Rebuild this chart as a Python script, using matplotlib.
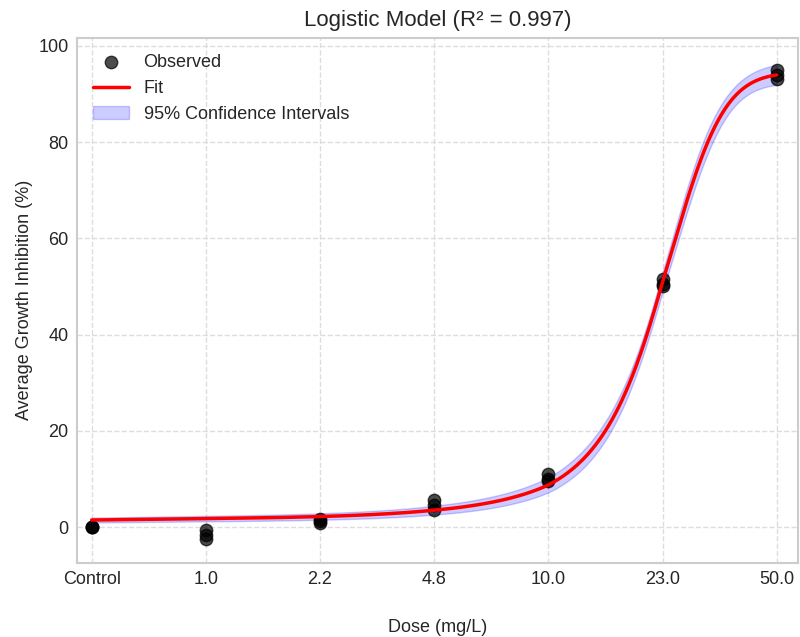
import numpy as np
import matplotlib
matplotlib.use("Agg")
import matplotlib.pyplot as plt

dose_labels = ["Control", "1.0", "2.2", "4.8", "10.0", "23.0", "50.0"]
dose_values = [0.0, 1.0, 2.2, 4.8, 10.0, 23.0, 50.0]
rep1 = [0.0, -0.6, 1.7, 5.6, 11.0, 51.5, 95.0]
rep2 = [0.0, -1.6, 0.9, 4.5, 10.0, 50.5, 94.0]
rep3 = [0.0, -2.5, 1.3, 3.6, 9.5, 50.0, 93.0]
r_squared = 0.997

plt.style.use("seaborn-v0_8-whitegrid")
plt.rcParams["font.family"] = ["Liberation Sans", "DejaVu Sans"]

doses = np.array(dose_values)
pos = np.arange(len(dose_labels), dtype=float)
xs = np.concatenate([pos, pos, pos])
ds = np.concatenate([doses, doses, doses])
ys = np.concatenate([rep1, rep2, rep3])


def logistic(x, p):
    L, x0, k = p
    return L / (1.0 + np.exp(-k * (x - x0)))


def jac(x, p):
    L, x0, k = p
    s = 1.0 / (1.0 + np.exp(-k * (x - x0)))
    dsg = s * (1 - s)
    return np.column_stack([s, L * dsg * (-k), L * dsg * (x - x0)])


p = np.array([95.0, 23.0, 0.17])
for _ in range(300):
    r = ys - logistic(ds, p)
    J = jac(ds, p)
    step, *_ = np.linalg.lstsq(J, r, rcond=None)
    p = p + 0.5 * step

res = ys - logistic(ds, p)
dof = len(ys) - 3
s2 = np.sum(res ** 2) / dof
J = jac(ds, p)
cov = s2 * np.linalg.inv(J.T @ J)

# smooth positions on the categorical axis; dose interpolated geometrically between doses
xf = np.linspace(0, 6, 600)
logd = np.log(doses[1:])
df = np.where(xf >= 1, np.exp(np.interp(xf, pos[1:], logd)), xf * doses[1])
yf = logistic(df, p)
Jf = jac(df, p)
se = np.sqrt(np.einsum("ij,jk,ik->i", Jf, cov, Jf))
lo = yf - 1.96 * se
hi = yf + 1.96 * se

fig = plt.figure(figsize=(8.0, 6.37), dpi=100)
ax = fig.add_axes([0.096, 0.116, 0.902, 0.825])

ax.scatter(xs, ys, s=80, color="black", alpha=0.7, label="Observed", zorder=3)
ax.plot(xf, yf, color="red", lw=2.5, label="Fit", zorder=4)
ax.fill_between(xf, lo, hi, color="blue", alpha=0.2, label="95% Confidence Intervals", zorder=2)

ax.set_xticks(pos)
ax.set_xticklabels(dose_labels)
ax.set_xlim(-0.13, 6.19)
ax.set_ylim(-7.5, 101.7)
ax.tick_params(labelsize=13, colors="#262626", pad=6)
ax.grid(True, linestyle="--", color="#dddddd", lw=1.0)
for sp in ax.spines.values():
    sp.set_visible(True)
    sp.set_color("#cccccc")
    sp.set_linewidth(1.5)

ax.set_title(f"Logistic Model (R\u00b2 = {r_squared})", fontsize=16, color="#262626", pad=8)
ax.set_xlabel("Dose (mg/L)", fontsize=13, labelpad=22, color="#262626")
ax.set_ylabel("Average Growth Inhibition (%)", fontsize=13, color="#262626", labelpad=4)
ax.legend(loc="upper left", fontsize=13, frameon=False)

fig.savefig("out.png", dpi=100)
